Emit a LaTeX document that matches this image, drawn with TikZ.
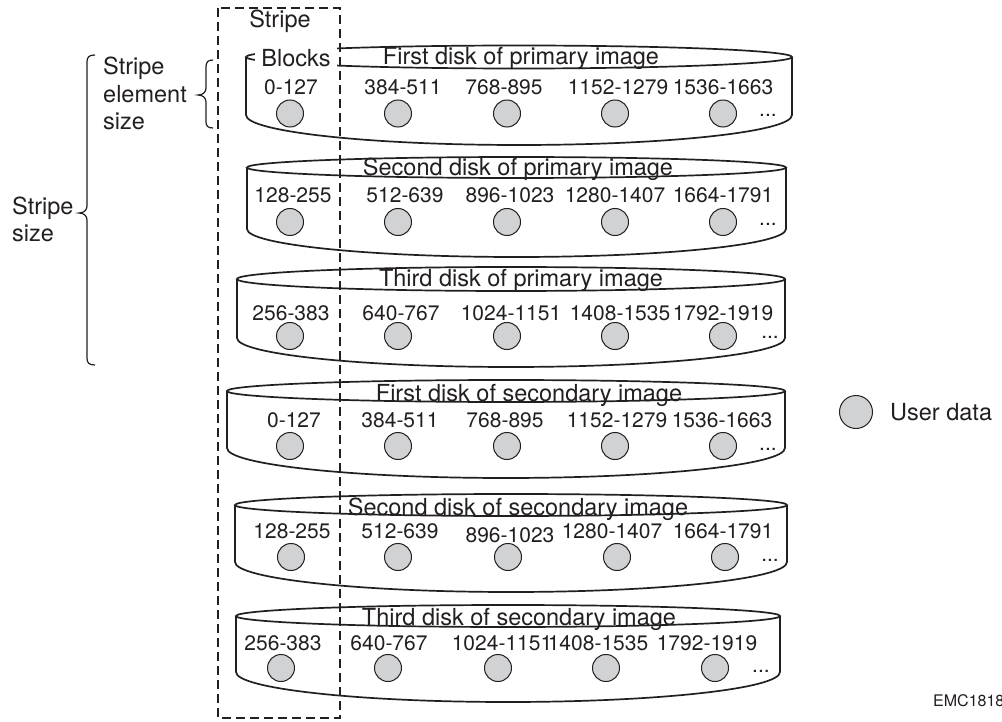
\documentclass[tikz,border=0pt]{standalone}
\usepackage{fontspec}
\setmainfont{TeX Gyre Heros}
\definecolor{ink}{HTML}{231F20}
\definecolor{dotfill}{HTML}{D1D2D4}
\tikzset{
  disk/.style={line width=1.7pt, draw=ink},
  datum/.style={circle, draw=ink, fill=dotfill, line width=1pt, minimum size=27pt, inner sep=0pt},
  num/.style={anchor=base, inner sep=0pt, font=\fontsize{21}{24}\selectfont, text=ink},
  lbl/.style={inner sep=0pt, font=\fontsize{23.5}{27.5}\selectfont, text=ink},
  title/.style={lbl, anchor=base},
  stripebox/.style={draw=ink, line width=1.3pt, dash pattern=on 9pt off 5pt},
  bracestyle/.style={draw=ink, line width=1.2pt},
}
% cx, cy, rx, ry, side bottom, bottom radius
\newcommand\drawdisk[6]{%
  \pgfmathsetmacro\dL{#1-#3}\pgfmathsetmacro\dR{#1+#3}%
  \pgfmathsetmacro\dB{#5+#6}\pgfmathsetmacro\dK{#5+0.5523*#6}%
  \pgfmathsetmacro\dXl{#1-0.5523*#3}\pgfmathsetmacro\dXr{#1+0.5523*#3}%
  \draw[disk] (#1,#2) ellipse [x radius=#3, y radius=#4];
  \draw[disk] (\dL,#2) -- (\dL,#5) .. controls (\dL,\dK) and (\dXl,\dB) .. (#1,\dB)
     .. controls (\dXr,\dB) and (\dR,\dK) .. (\dR,#5) -- (\dR,#2);
}
% id, baseline, circle y, dots x, dots y, list x/label/circle x/baseline shift
\newcommand\diskrow[6]{%
  \foreach \nx/\nl/\cxx/\nsh [count=\i] in {#6} {
    \node[num] (n#1-\i) at (\nx,#2+\nsh) {\nl};
    \node[datum] (c#1-\i) at (\cxx,#3) {};
  }
  \node[num] (dots#1) at (#4,#5) {...};
}
\begin{document}
\begin{tikzpicture}[x=1pt,y=-1pt]
\clip (0,0) rectangle (1002,722);
\fill[white] (0,0) rectangle (1002,722);

% disks
\drawdisk{519}{57}{273}{11.5}{115}{30}
\drawdisk{516.5}{167.5}{269.5}{10.5}{229}{28}
\drawdisk{511}{279}{274}{12}{338}{29}
\drawdisk{506}{391}{279}{11}{448}{30}
\drawdisk{511}{505}{276}{11}{562}{30}
\drawdisk{508}{616}{272}{11}{672}{30}

% Blocks label covering the left part of the first disk top
\node[lbl, fill=white, minimum width=82pt, minimum height=28pt] (blocks) at (296,58) {Blocks};

% stripe box
\draw[stripebox] (218,8) rectangle (340,718);
\node[lbl, anchor=base] (stripe) at (280,28) {Stripe};

% titles
\node[title] (t1) at (521,65) {First disk of primary image};
\node[title] (t2) at (518,176) {Second disk of primary image};
\node[title] (t3) at (521,287) {Third disk of primary image};
\node[title] (t4) at (529,401) {First disk of secondary image};
\node[title] (t5) at (518,515) {Second disk of secondary image};
\node[title] (t6) at (519,625) {Third disk of secondary image};

% rows
\diskrow{1}{95}{113.5}{768}{117}{291/0-127/290/0, 403/384-511/398/0, 504/768-895/507/0, 618/1152-1279/615/0, 723/1536-1663/723/0}
\diskrow{2}{203}{222}{768}{226}{293/128-255/290/0, 405/512-639/398/0, 510/896-1023/507/0, 615/1280-1407/615/0, 723/1664-1791/723/0}
\diskrow{3}{320}{336}{770}{338}{291/256-383/290/0, 401/640-767/398/0, 511/1024-1151/507/0, 620/1408-1535/615/0, 723/1792-1919/723/0}
\diskrow{4}{427}{446}{768}{450}{294/0-127/290/0, 400/384-511/398/0, 505/768-895/507/0, 617/1152-1279/615/0, 722/1536-1663/723/0}
\diskrow{5}{538}{557}{770}{561}{292/128-255/291/0, 400/512-639/398/0, 510/896-1023/508/4, 612/1280-1407/617/0, 723/1664-1791/725/0}
\diskrow{6}{650}{668}{761}{672}{283/256-383/281/0, 389/640-767/388/0, 502/1024-1151/498/0, 598/1408-1535/606/0, 707/1792-1919/715/0}

% braces
\draw[bracestyle] (213,60) .. controls (208,60) and (206,62) .. (206,67) -- (206,88)
  .. controls (206,92) and (203,95) .. (198,95) .. controls (203,95) and (206,98) .. (206,102)
  -- (206,122) .. controls (206,126) and (208,128) .. (213,128);
\draw[bracestyle] (95,55) .. controls (89,55) and (87,57) .. (87,62) -- (87,206)
  .. controls (87,210) and (84,213) .. (79,213) .. controls (84,213) and (87,216) .. (87,220)
  -- (87,358) .. controls (87,363) and (89,365) .. (95,365);

\node[lbl, anchor=base west] (se1) at (103,75) {Stripe};
\node[lbl, anchor=base west] (se2) at (103,103) {element};
\node[lbl, anchor=base west] (se3) at (103,130) {size};
\node[lbl, anchor=base west] (ss1) at (12,215) {Stripe};
\node[lbl, anchor=base west] (ss2) at (12,242) {size};

% legend
\node[datum, minimum size=33pt] (legc) at (856,412) {};
\node[lbl, anchor=base west] (legt) at (890,420) {User data};

\node[anchor=base west, inner sep=0pt, font=\fontsize{16}{19}\selectfont, text=ink] (emc) at (933,706) {EMC1818};
\end{tikzpicture}
\end{document}
